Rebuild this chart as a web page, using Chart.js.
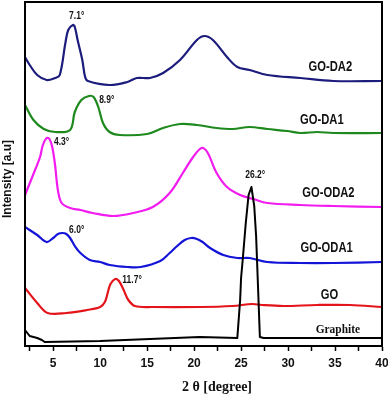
<!DOCTYPE html>
<html>
<head>
<meta charset="utf-8">
<script src="https://cdn.jsdelivr.net/npm/chart.js@4.4.1/dist/chart.umd.min.js"></script>
<style>
html, body { margin: 0; padding: 0; background: #fff; }
#wrap { width: 388px; height: 394px; position: relative; }
</style>
</head>
<body>
<div id="wrap"><canvas id="xrd"></canvas></div>
<script>
// 2 theta (deg) and stacked intensity (a.u.)
var graphiteX = [2.0, 2.5, 3.3, 3.8, 4.1, 10.0, 20.6, 24.6, 24.9, 25.0, 25.2, 25.5, 25.8, 26.1, 26.4, 26.6, 26.8, 27.0, 27.4, 40.0];
var graphiteY = [16, 10, 8, 6, 4, 5, 9, 8, 46, 68, 89, 123, 151, 159, 140, 110, 60, 9, 8, 8];

var goX = [2.0, 3.3, 4.4, 6.4, 8.6, 10.0, 10.5, 10.8, 11.1, 11.6, 12.0, 12.5, 13.0, 13.7, 15.6, 20.6, 24.1, 26.2, 27.2, 29.5, 33.1, 36.6, 40.0];
var goY = [58, 43, 33, 33, 36, 39, 44, 53, 62, 67, 65, 56, 46, 40, 39, 39, 40, 42, 41, 40, 41, 41, 39];

var goOda1X = [2.0, 3.3, 4.3, 5.0, 5.5, 6.0, 6.4, 6.8, 7.3, 7.9, 8.9, 10.0, 11.0, 12.9, 14.3, 16.4, 17.4, 18.2, 19.0, 19.7, 20.3, 20.9, 21.7, 23.1, 24.6, 25.9, 27.8, 31.3, 34.8, 40.0];
var goOda1Y = [119, 111, 104, 108, 112, 113, 112, 108, 100, 93, 86, 84, 81, 79, 79, 85, 93, 100, 106, 108, 107, 104, 98, 91, 88, 88, 84, 83, 83, 84];

var goOda2X = [2.0, 2.9, 3.6, 3.9, 4.3, 4.6, 4.9, 5.2, 5.5, 5.9, 6.8, 7.9, 9.2, 11.4, 13.5, 15.6, 17.4, 18.8, 19.9, 20.8, 21.4, 22.4, 23.5, 24.9, 26.3, 27.8, 31.3, 34.8, 40.0];
var goOda2Y = [151, 172, 189, 201, 208, 207, 199, 181, 156, 143, 138, 136, 133, 130, 133, 139, 153, 173, 189, 198, 194, 173, 159, 151, 147, 143, 141, 140, 139];

var goDa1X = [2.0, 2.9, 4.0, 5.2, 6.8, 7.3, 8.0, 8.8, 9.3, 9.8, 10.3, 11.0, 12.1, 15.0, 16.7, 18.5, 20.3, 22.4, 24.1, 25.9, 27.8, 29.9, 31.3, 33.1, 34.8, 40.0];
var goDa1Y = [241, 226, 217, 214, 216, 234, 246, 250, 249, 239, 223, 214, 211, 212, 218, 222, 221, 218, 217, 219, 217, 215, 213, 214, 213, 213];

var goDa2X = [2.0, 2.5, 3.3, 4.3, 5.2, 5.7, 6.3, 6.6, 7.1, 7.3, 7.6, 8.1, 8.4, 8.7, 11.0, 12.9, 13.9, 15.3, 16.7, 18.5, 20.3, 21.1, 22.0, 23.5, 24.6, 25.9, 27.8, 31.3, 34.8, 40.0];
var goDa2Y = [289, 281, 271, 266, 268, 271, 303, 316, 321, 319, 306, 286, 269, 265, 261, 264, 268, 268, 273, 286, 306, 310, 306, 289, 279, 276, 271, 268, 265, 265];

var xTicks = [2.5, 5, 7.5, 10, 12.5, 15, 17.5, 20, 22.5, 25, 27.5, 30, 32.5, 35, 37.5, 40];

var seriesNames = ['Graphite', 'GO', 'GO-ODA1', 'GO-ODA2', 'GO-DA1', 'GO-DA2'];
var seriesColors = ['#000000', '#e3141a', '#1414d8', '#f21cf0', '#1e8a1e', '#1c1c7c'];

// peak annotations: text, 2theta, intensity
var peakText = ['7.1°', '8.9°', '4.3°', '6.0°', '11.7°', '26.2°'];
var peakAtX = [7.5, 10.7, 5.9, 7.5, 13.4, 26.5];
var peakAtY = [330, 246, 204, 116, 66, 171];

// curve name annotations
var nameAtX = [35.3, 34.4, 34.1, 34.3, 33.6, 34.5];
var nameAtY = [16, 51, 98, 153, 226, 279];

function pairs(xs, ys) {
    var out = [];
    for (var i = 0; i < xs.length; i++) out.push({x: xs[i], y: ys[i]});
    return out;
}

var allX = [graphiteX, goX, goOda1X, goOda2X, goDa1X, goDa2X];
var allY = [graphiteY, goY, goOda1Y, goOda2Y, goDa1Y, goDa2Y];

var datasets = [];
for (var i = 0; i < seriesNames.length; i++) {
    datasets.push({
        label: seriesNames[i],
        data: pairs(allX[i], allY[i]),
        borderColor: seriesColors[i],
        borderWidth: i === 0 ? 2 : 2.2,
        pointRadius: 0,
        fill: false,
        tension: i === 0 ? 0 : 0.35,
        borderJoinStyle: 'round'
    });
}

function squeezedText(ctx, text, x, y, sx) {
    ctx.save();
    ctx.translate(x, y);
    ctx.scale(sx, 1);
    ctx.fillText(text, 0, 0);
    ctx.restore();
}

var decor = {
    id: 'decor',
    afterDraw: function (chart) {
        var ctx = chart.ctx;
        var a = chart.chartArea;
        var xs = chart.scales.x, ys = chart.scales.y;

        // frame
        ctx.save();
        ctx.strokeStyle = '#000';
        ctx.lineWidth = 2;
        ctx.strokeRect(a.left, a.top, a.right - a.left, a.bottom - a.top);

        ctx.fillStyle = '#111';
        ctx.textAlign = 'center';
        ctx.textBaseline = 'middle';

        // curve names
        for (var i = 0; i < seriesNames.length; i++) {
            var px = xs.getPixelForValue(nameAtX[i]);
            var py = ys.getPixelForValue(nameAtY[i]);
            if (i === 0) {
                ctx.font = 'bold 12px "Liberation Serif", "Times New Roman", serif';
                squeezedText(ctx, seriesNames[i], px, py, 0.95);
            } else {
                ctx.font = 'bold 14px "Liberation Sans", Arial, sans-serif';
                squeezedText(ctx, seriesNames[i], px, py, 0.8);
            }
        }

        // peak positions
        ctx.font = 'bold 10px "Liberation Sans", Arial, sans-serif';
        for (var j = 0; j < peakText.length; j++) {
            squeezedText(ctx, peakText[j], xs.getPixelForValue(peakAtX[j]), ys.getPixelForValue(peakAtY[j]), 0.85);
        }

        // axis titles
        ctx.font = 'bold 14px "Liberation Serif", "Times New Roman", serif';
        ctx.fillText('2 θ [degree]', 217, 387);

        ctx.font = 'bold 12px "Liberation Sans", Arial, sans-serif';
        ctx.translate(8, 179);
        ctx.rotate(-Math.PI / 2);
        ctx.fillText('Intensity [a.u]', 0, 0);
        ctx.restore();
    }
};

new Chart(document.getElementById('xrd'), {
    type: 'line',
    data: {datasets: datasets},
    options: {
        responsive: true,
        maintainAspectRatio: false,
        animation: false,
        layout: {padding: {top: 2, right: 6, left: 0, bottom: 0}},
        plugins: {
            legend: {display: false},
            tooltip: {enabled: false}
        },
        scales: {
            x: {
                type: 'linear',
                min: 2,
                max: 40,
                afterBuildTicks: function (axis) {
                    axis.ticks = xTicks.map(function (v) { return {value: v}; });
                },
                afterFit: function (axis) {
                    axis.height = 48;
                    axis.paddingLeft = 0;
                    axis.paddingRight = 0;
                },
                grid: {
                    drawOnChartArea: false,
                    drawTicks: true,
                    tickLength: 5,
                    tickWidth: 1.5,
                    color: '#000'
                },
                border: {display: true, color: '#000', width: 2},
                ticks: {
                    padding: 5,
                    autoSkip: false,
                    maxRotation: 0,
                    color: '#111',
                    font: {family: '"Liberation Sans", Arial, sans-serif', size: 12, weight: 'bold'},
                    callback: function (v) { return v % 5 === 0 ? String(v) : ''; }
                }
            },
            y: {
                type: 'linear',
                min: 0,
                max: 344,
                afterFit: function (axis) {
                    axis.width = 25;
                    axis.paddingTop = 0;
                    axis.paddingBottom = 0;
                },
                grid: {drawOnChartArea: false, drawTicks: false},
                border: {display: true, color: '#000', width: 2},
                ticks: {display: false}
            }
        }
    },
    plugins: [decor]
});
</script>
</body>
</html>
